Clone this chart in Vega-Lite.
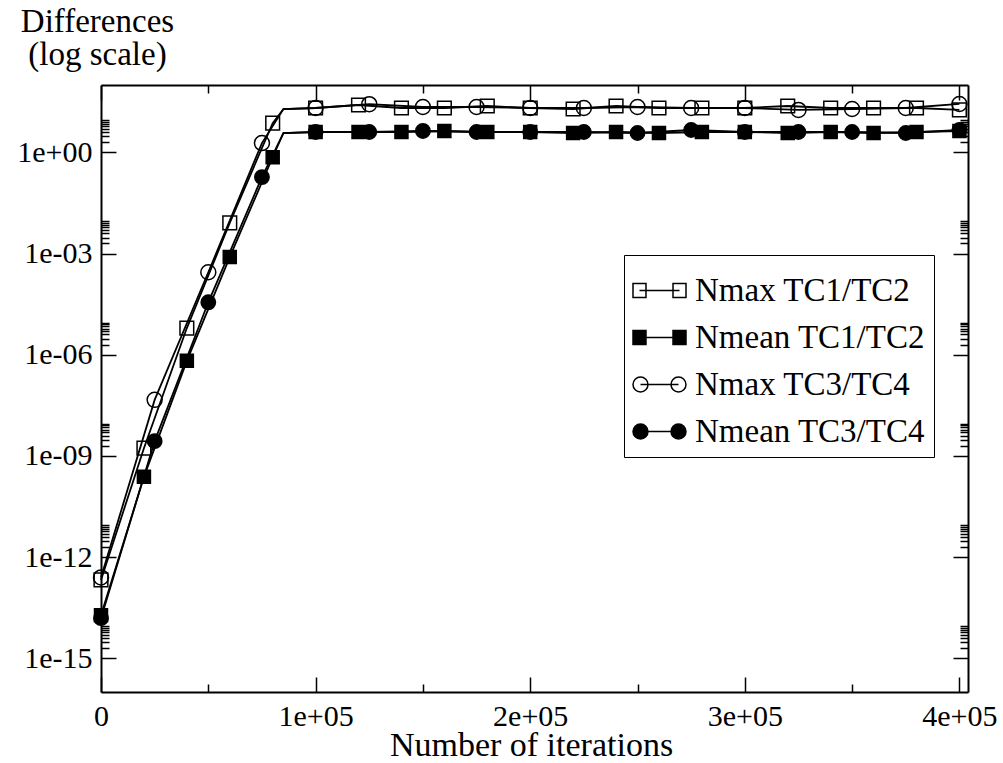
{
  "$schema": "https://vega.github.io/schema/vega-lite/v6.json",
  "width": 867,
  "height": 607,
  "autosize": {"type": "none"},
  "padding": {"left": 101, "top": 85, "right": 35, "bottom": 71},
  "background": "white",
  "config": {
    "view": {"stroke": null},
    "axis": {
      "domainColor": "black", "domainWidth": 2,
      "tickColor": "black", "tickWidth": 1.5,
      "labelFont": "Liberation Serif", "labelFontSize": 30, "labelColor": "black",
      "titleFont": "Liberation Serif", "titleFontSize": 33, "titleFontWeight": "normal", "titleColor": "black",
      "grid": false, "labelOverlap": false, "labelFlush": false
    },
    "legend": {
      "labelFont": "Liberation Serif", "labelFontSize": 33, "labelColor": "black",
      "labelLimit": 500, "padding": 8, "strokeColor": "black", "fillColor": "white",
      "labelOffset": 8, "rowPadding": 2,
      "symbolStrokeColor": "black", "symbolStrokeWidth": 1.5
    }
  },
  "data": {"values": [
    {"s": "Nmax TC1/TC2", "x": 0, "y": 2.1e-13},
    {"s": "Nmax TC1/TC2", "x": 20000, "y": 1.7e-9},
    {"s": "Nmax TC1/TC2", "x": 40000, "y": 6.2e-6},
    {"s": "Nmax TC1/TC2", "x": 60000, "y": 8.1e-3},
    {"s": "Nmax TC1/TC2", "x": 80000, "y": 7.4},
    {"s": "Nmax TC1/TC2", "x": 85000, "y": 19.4},
    {"s": "Nmax TC1/TC2", "x": 100000, "y": 20.8},
    {"s": "Nmax TC1/TC2", "x": 120000, "y": 25.5},
    {"s": "Nmax TC1/TC2", "x": 140000, "y": 20.8},
    {"s": "Nmax TC1/TC2", "x": 160000, "y": 20.8},
    {"s": "Nmax TC1/TC2", "x": 180000, "y": 23.8},
    {"s": "Nmax TC1/TC2", "x": 200000, "y": 20.8},
    {"s": "Nmax TC1/TC2", "x": 220000, "y": 19.4},
    {"s": "Nmax TC1/TC2", "x": 240000, "y": 23.8},
    {"s": "Nmax TC1/TC2", "x": 260000, "y": 20.8},
    {"s": "Nmax TC1/TC2", "x": 280000, "y": 20.8},
    {"s": "Nmax TC1/TC2", "x": 300000, "y": 20.8},
    {"s": "Nmax TC1/TC2", "x": 320000, "y": 23.8},
    {"s": "Nmax TC1/TC2", "x": 340000, "y": 20.8},
    {"s": "Nmax TC1/TC2", "x": 360000, "y": 20.8},
    {"s": "Nmax TC1/TC2", "x": 380000, "y": 20.8},
    {"s": "Nmax TC1/TC2", "x": 400000, "y": 18.2},
    {"s": "Nmean TC1/TC2", "x": 0, "y": 1.9e-14},
    {"s": "Nmean TC1/TC2", "x": 20000, "y": 2.4e-10},
    {"s": "Nmean TC1/TC2", "x": 40000, "y": 6.6e-7},
    {"s": "Nmean TC1/TC2", "x": 60000, "y": 7.9e-4},
    {"s": "Nmean TC1/TC2", "x": 80000, "y": 0.72},
    {"s": "Nmean TC1/TC2", "x": 85000, "y": 3.77},
    {"s": "Nmean TC1/TC2", "x": 100000, "y": 4.04},
    {"s": "Nmean TC1/TC2", "x": 120000, "y": 4.04},
    {"s": "Nmean TC1/TC2", "x": 140000, "y": 4.04},
    {"s": "Nmean TC1/TC2", "x": 160000, "y": 4.33},
    {"s": "Nmean TC1/TC2", "x": 180000, "y": 4.04},
    {"s": "Nmean TC1/TC2", "x": 200000, "y": 4.04},
    {"s": "Nmean TC1/TC2", "x": 220000, "y": 3.77},
    {"s": "Nmean TC1/TC2", "x": 240000, "y": 4.04},
    {"s": "Nmean TC1/TC2", "x": 260000, "y": 3.77},
    {"s": "Nmean TC1/TC2", "x": 280000, "y": 4.04},
    {"s": "Nmean TC1/TC2", "x": 300000, "y": 4.04},
    {"s": "Nmean TC1/TC2", "x": 320000, "y": 3.77},
    {"s": "Nmean TC1/TC2", "x": 340000, "y": 4.04},
    {"s": "Nmean TC1/TC2", "x": 360000, "y": 3.77},
    {"s": "Nmean TC1/TC2", "x": 380000, "y": 4.04},
    {"s": "Nmean TC1/TC2", "x": 400000, "y": 4.33},
    {"s": "Nmax TC3/TC4", "x": 0, "y": 2.5e-13},
    {"s": "Nmax TC3/TC4", "x": 25000, "y": 4.6e-8},
    {"s": "Nmax TC3/TC4", "x": 50000, "y": 2.8e-4},
    {"s": "Nmax TC3/TC4", "x": 75000, "y": 1.9},
    {"s": "Nmax TC3/TC4", "x": 85000, "y": 19.4},
    {"s": "Nmax TC3/TC4", "x": 100000, "y": 20.8},
    {"s": "Nmax TC3/TC4", "x": 125000, "y": 27},
    {"s": "Nmax TC3/TC4", "x": 150000, "y": 22.3},
    {"s": "Nmax TC3/TC4", "x": 175000, "y": 22.3},
    {"s": "Nmax TC3/TC4", "x": 200000, "y": 20.8},
    {"s": "Nmax TC3/TC4", "x": 225000, "y": 20.8},
    {"s": "Nmax TC3/TC4", "x": 250000, "y": 22.3},
    {"s": "Nmax TC3/TC4", "x": 275000, "y": 20.8},
    {"s": "Nmax TC3/TC4", "x": 300000, "y": 20.8},
    {"s": "Nmax TC3/TC4", "x": 325000, "y": 18.2},
    {"s": "Nmax TC3/TC4", "x": 350000, "y": 19.4},
    {"s": "Nmax TC3/TC4", "x": 375000, "y": 20.8},
    {"s": "Nmax TC3/TC4", "x": 400000, "y": 27.4},
    {"s": "Nmean TC3/TC4", "x": 0, "y": 1.55e-14},
    {"s": "Nmean TC3/TC4", "x": 25000, "y": 2.75e-9},
    {"s": "Nmean TC3/TC4", "x": 50000, "y": 3.6e-5},
    {"s": "Nmean TC3/TC4", "x": 75000, "y": 0.186},
    {"s": "Nmean TC3/TC4", "x": 85000, "y": 3.77},
    {"s": "Nmean TC3/TC4", "x": 100000, "y": 4.04},
    {"s": "Nmean TC3/TC4", "x": 125000, "y": 4.04},
    {"s": "Nmean TC3/TC4", "x": 150000, "y": 4.33},
    {"s": "Nmean TC3/TC4", "x": 175000, "y": 4.04},
    {"s": "Nmean TC3/TC4", "x": 200000, "y": 4.04},
    {"s": "Nmean TC3/TC4", "x": 225000, "y": 4.04},
    {"s": "Nmean TC3/TC4", "x": 250000, "y": 3.77},
    {"s": "Nmean TC3/TC4", "x": 275000, "y": 4.63},
    {"s": "Nmean TC3/TC4", "x": 300000, "y": 4.04},
    {"s": "Nmean TC3/TC4", "x": 325000, "y": 4.04},
    {"s": "Nmean TC3/TC4", "x": 350000, "y": 4.04},
    {"s": "Nmean TC3/TC4", "x": 375000, "y": 3.77},
    {"s": "Nmean TC3/TC4", "x": 400000, "y": 4.63}
  ]},
  "layer": [
    {
      "mark": {"type": "line", "color": "black", "strokeWidth": 1.8},
      "encoding": {
        "detail": {"field": "s"},
        "x": {
          "field": "x", "type": "quantitative",
          "scale": {"domain": [0, 404000], "nice": false, "zero": false},
          "axis": {
            "orient": "bottom",
            "values": [0, 50000, 100000, 150000, 200000, 250000, 300000, 350000, 400000],
            "labelExpr": "datum.value == 0 ? '0' : (datum.value % 100000 == 0 ? (datum.value / 100000) + 'e+05' : '')",
            "tickSize": {"condition": {"test": "datum.value % 100000 == 0", "value": -15}, "value": -8},
            "labelPadding": 24,
            "title": "Number of iterations", "titleFontSize": 34,
            "titleX": 430, "titleY": 63, "titleAlign": "center", "titleBaseline": "alphabetic"
          }
        },
        "y": {
          "field": "y", "type": "quantitative",
          "scale": {"type": "log", "domain": [1e-16, 100], "nice": false},
          "axis": {
            "orient": "left",
            "values": [1e-15, 2e-15, 3e-15, 4e-15, 5e-15, 6e-15, 7e-15, 8e-15, 9e-15,
                       1e-12, 2e-12, 3e-12, 4e-12, 5e-12, 6e-12, 7e-12, 8e-12, 9e-12,
                       1e-9, 2e-9, 3e-9, 4e-9, 5e-9, 6e-9, 7e-9, 8e-9, 9e-9,
                       1e-6, 2e-6, 3e-6, 4e-6, 5e-6, 6e-6, 7e-6, 8e-6, 9e-6,
                       1e-3, 2e-3, 3e-3, 4e-3, 5e-3, 6e-3, 7e-3, 8e-3, 9e-3,
                       1, 2, 3, 4, 5, 6, 7, 8, 9],
            "labelExpr": "abs(log(datum.value)/LN10 - round(log(datum.value)/LN10)) < 0.01 ? '1e' + (datum.value < 0.5 ? '-' : '+') + (abs(round(log(datum.value)/LN10)) < 10 ? '0' : '') + abs(round(log(datum.value)/LN10)) : ''",
            "tickSize": {"condition": {"test": "abs(log(datum.value)/LN10 - round(log(datum.value)/LN10)) < 0.01", "value": -15}, "value": -8},
            "labelPadding": 24,
            "title": ["Differences", "(log scale)"],
            "titleAngle": 0, "titleX": -4, "titleY": -54, "titleAlign": "center",
            "titleBaseline": "alphabetic", "titleLineHeight": 33
          }
        }
      }
    },
    {
      "transform": [{"filter": "datum.x != 85000"}],
      "mark": {"type": "point", "stroke": "black", "strokeWidth": 1.5, "opacity": 1},
      "encoding": {
        "x": {
          "field": "x", "type": "quantitative",
          "scale": {"domain": [0, 404000], "nice": false, "zero": false},
          "axis": {
            "orient": "top", "labels": false, "title": null,
            "values": [0, 50000, 100000, 150000, 200000, 250000, 300000, 350000, 400000],
            "tickSize": {"condition": {"test": "datum.value % 100000 == 0", "value": -15}, "value": -8}
          }
        },
        "y": {
          "field": "y", "type": "quantitative",
          "scale": {"type": "log", "domain": [1e-16, 100], "nice": false},
          "axis": {
            "orient": "right", "labels": false, "title": null,
            "values": [1e-15, 2e-15, 3e-15, 4e-15, 5e-15, 6e-15, 7e-15, 8e-15, 9e-15,
                       1e-12, 2e-12, 3e-12, 4e-12, 5e-12, 6e-12, 7e-12, 8e-12, 9e-12,
                       1e-9, 2e-9, 3e-9, 4e-9, 5e-9, 6e-9, 7e-9, 8e-9, 9e-9,
                       1e-6, 2e-6, 3e-6, 4e-6, 5e-6, 6e-6, 7e-6, 8e-6, 9e-6,
                       1e-3, 2e-3, 3e-3, 4e-3, 5e-3, 6e-3, 7e-3, 8e-3, 9e-3,
                       1, 2, 3, 4, 5, 6, 7, 8, 9],
            "tickSize": {"condition": {"test": "abs(log(datum.value)/LN10 - round(log(datum.value)/LN10)) < 0.01", "value": -15}, "value": -8}
          }
        },
        "shape": {
          "field": "s", "type": "nominal", "legend": null,
          "scale": {"domain": ["Nmean TC1/TC2", "Nmax TC1/TC2", "Nmean TC3/TC4", "Nmax TC3/TC4"],
                    "range": ["square", "square", "circle", "circle"]}
        },
        "fill": {
          "field": "s", "type": "nominal",
          "scale": {"domain": ["Nmax TC1/TC2", "Nmean TC1/TC2", "Nmax TC3/TC4", "Nmean TC3/TC4"],
                    "range": ["transparent", "black", "transparent", "black"]},
          "legend": {
            "title": null, "orient": "none", "legendX": 523, "legendY": 170,
            "symbolSize": 2809, "symbolStrokeColor": "black", "symbolStrokeWidth": 1.5,
            "symbolType": {"expr": "datum.value === 'Nmax TC1/TC2' ? 'M-1,-0.264H-0.51V0.264H-1Z M-0.755,0H0.755 M0.51,-0.264H1V0.264H0.51Z' : datum.value === 'Nmean TC1/TC2' ? 'M-1,-0.264H-0.51V0.264H-1Z M-0.51,0H0.51 M0.51,-0.264H1V0.264H0.51Z' : datum.value === 'Nmax TC3/TC4' ? 'M-1,0A0.283,0.283 0 1 0 -0.434,0A0.283,0.283 0 1 0 -1,0Z M-0.717,0H0.717 M0.434,0A0.283,0.283 0 1 0 1,0A0.283,0.283 0 1 0 0.434,0Z' : 'M-1,0A0.283,0.283 0 1 0 -0.434,0A0.283,0.283 0 1 0 -1,0Z M-0.434,0H0.434 M0.434,0A0.283,0.283 0 1 0 1,0A0.283,0.283 0 1 0 0.434,0Z'"}
          }
        },
        "size": {
          "field": "s", "type": "nominal", "legend": null,
          "scale": {"domain": ["Nmean TC1/TC2", "Nmax TC1/TC2", "Nmean TC3/TC4", "Nmax TC3/TC4"],
                    "range": [169, 225, 225, 324]}
        }
      }
    }
  ],
  "resolve": {"axis": {"x": "independent", "y": "independent"}}
}
